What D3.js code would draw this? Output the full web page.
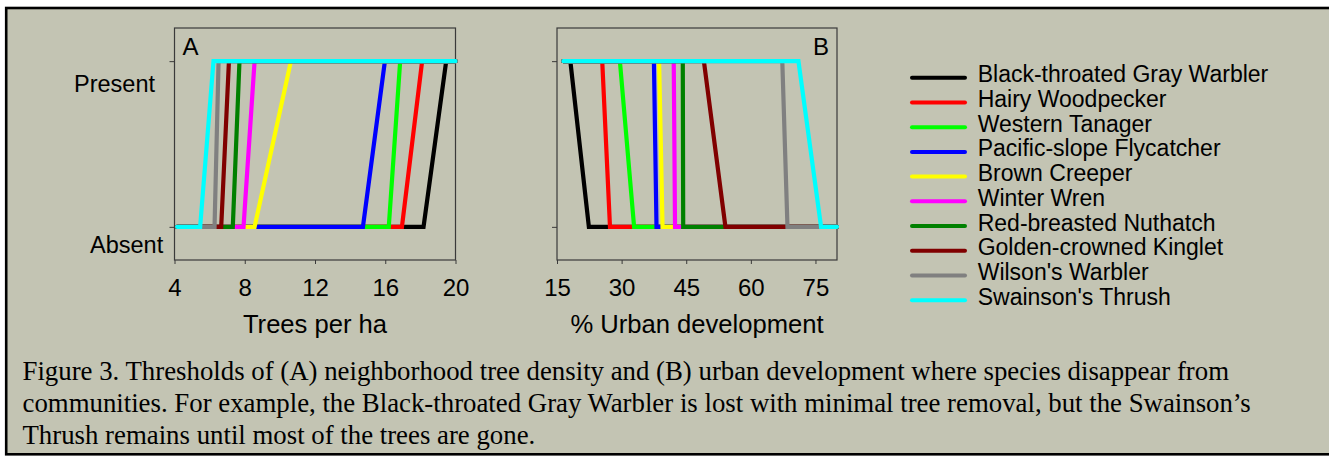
<!DOCTYPE html>
<html>
<head>
<meta charset="utf-8">
<script src="https://cdn.jsdelivr.net/npm/d3@7"></script>
<style>
  body { margin: 0; background: #fff; }
  svg { display: block; }
</style>
</head>
<body>
<svg id="chart" width="1329" height="456"></svg>
<script>
// species, in legend (and drawing) order
var species = ["Black-throated Gray Warbler", "Hairy Woodpecker", "Western Tanager",
  "Pacific-slope Flycatcher", "Brown Creeper", "Winter Wren", "Red-breasted Nuthatch",
  "Golden-crowned Kinglet", "Wilson's Warbler", "Swainson's Thrush"];
var palette = ["#000000", "#ff0000", "#00ff00", "#0000ff", "#ffff00", "#ff00ff",
  "#008000", "#800000", "#808080", "#00ffff"];

// panel A: trees per ha where each species is still absent / already present
var treesAbsentTo = [18.18, 16.95, 16.2, 14.73, 8.56, 7.93, 7.32, 6.66, 6.28, 5.46];
var treesPresentFrom = [19.47, 18.1, 16.85, 15.98, 10.63, 8.56, 7.7, 7.1, 6.51, 6.22];
var treesSpan = [4.15, 20];

// panel B: % urban development where each species is still present / already gone
var urbanPresentTo = [18.1, 25.5, 29.6, 37.5, 38.7, 42.1, 44.2, 49.1, 67.3, 71.05];
var urbanAbsentFrom = [22.4, 27.3, 32.9, 38.1, 39.5, 42.4, 44.3, 54.1, 68.5, 76.3];
var urbanSpan = [16.5, 80];

var treesTicks = [4, 8, 12, 16, 20];
var urbanTicks = [15, 30, 45, 60, 75];
var stateLabels = ["Absent", "Present"];

var captionLines = [
  "Figure 3. Thresholds of (A) neighborhood tree density and (B) urban development where species disappear from",
  "communities. For example, the Black-throated Gray Warbler is lost with minimal tree removal, but the Swainson\u2019s",
  "Thrush remains until most of the trees are gone."
];

var bg = "#c3c4b3";
var sans = "'Liberation Sans', Arial, sans-serif";

var svg = d3.select("#chart");

// outer frame
svg.append("rect")
    .attr("x", 6.2).attr("y", 8)
    .attr("width", 1330).attr("height", 446.3)
    .attr("fill", bg)
    .attr("stroke", "#000")
    .attr("stroke-width", 2.6);

var plotTop = 28, plotBottom = 260;

var y = d3.scaleLinear().domain([-0.2, 1.2]).range([plotBottom, plotTop]);

var line = d3.line()
    .x(function (d) { return d[0]; })
    .y(function (d) { return d[1]; });

function panel(left, right, domain, ticks, title, letter, letterAnchor) {
    var x = d3.scaleLinear().domain(domain).range([left, right]);
    var g = svg.append("g");

    g.append("rect")
        .attr("x", left).attr("y", plotTop)
        .attr("width", right - left).attr("height", plotBottom - plotTop)
        .attr("fill", "none")
        .attr("stroke", "#3a3a3a")
        .attr("stroke-width", 1.2);

    var xa = g.append("g")
        .attr("transform", "translate(0," + plotBottom + ")")
        .call(d3.axisBottom(x).tickValues(ticks).tickSize(4).tickSizeOuter(0).tickPadding(15));
    xa.select(".domain").remove();
    xa.selectAll("line").attr("stroke", "#3a3a3a");
    xa.selectAll("text")
        .style("font-family", sans)
        .style("font-size", "24px")
        .attr("fill", "#000");

    var ya = g.append("g")
        .attr("transform", "translate(" + left + ",0)")
        .call(d3.axisLeft(y).tickValues([0, 1]).tickSize(5).tickFormat(""));
    ya.select(".domain").remove();
    ya.selectAll("line").attr("stroke", "#3a3a3a");

    g.append("text")
        .attr("x", (left + right) / 2)
        .attr("y", 333)
        .attr("text-anchor", "middle")
        .style("font-family", sans)
        .style("font-size", "25.6px")
        .text(title);

    g.append("text")
        .attr("x", letterAnchor == "start" ? left + 8 : right - 8)
        .attr("y", 55)
        .attr("text-anchor", letterAnchor)
        .style("font-family", sans)
        .style("font-size", "24px")
        .text(letter);

    return { g: g, x: x };
}

var pa = panel(174.5, 455.5, [4, 20], treesTicks, "Trees per ha", "A", "start");
var pb = panel(557, 837, [15, 80], urbanTicks, "% Urban development", "B", "end");

// y labels sit a little below their ticks in the original
svg.selectAll(".statelabel")
    .data(stateLabels)
    .enter().append("text")
    .attr("class", "statelabel")
    .attr("x", function (d, i) { return i == 1 ? 74 : 90; })
    .attr("y", function (d, i) { return y(i) + (i == 1 ? 31 : 26); })
    .style("font-family", sans)
    .style("font-size", "23.5px")
    .text(function (d) { return d; });

function drawLines(p, pts) {
    p.g.selectAll(".sp")
        .data(species)
        .enter().append("path")
        .attr("class", "sp")
        .attr("d", function (d, i) {
            return line(pts(i).map(function (q) { return [p.x(q[0]), y(q[1])]; }));
        })
        .attr("fill", "none")
        .attr("stroke", function (d, i) { return palette[i]; })
        .attr("stroke-width", 4.2)
        .attr("stroke-linecap", "round")
        .attr("stroke-linejoin", "miter");
}

drawLines(pa, function (i) {
    return [[treesSpan[0], 0], [treesAbsentTo[i], 0], [treesPresentFrom[i], 1], [treesSpan[1], 1]];
});
drawLines(pb, function (i) {
    return [[urbanSpan[0], 1], [urbanPresentTo[i], 1], [urbanAbsentFrom[i], 0], [urbanSpan[1], 0]];
});

// legend
var leg = svg.append("g").attr("transform", "translate(912,77.7)");
var rows = leg.selectAll("g")
    .data(species)
    .enter().append("g")
    .attr("transform", function (d, i) { return "translate(0," + (i * 24.73) + ")"; });
rows.append("line")
    .attr("x1", 0).attr("x2", 53)
    .attr("stroke", function (d, i) { return palette[i]; })
    .attr("stroke-width", 4)
    .attr("stroke-linecap", "round");
rows.append("text")
    .attr("x", 65.7)
    .attr("y", 4.6)
    .style("font-family", sans)
    .style("font-size", "23px")
    .text(function (d) { return d; });

// caption
svg.selectAll(".cap")
    .data(captionLines)
    .enter().append("text")
    .attr("class", "cap")
    .attr("x", 22.5)
    .attr("y", function (d, i) { return 380 + i * 32; })
    .style("font-family", "'Liberation Serif', 'Times New Roman', serif")
    .style("font-size", "26.8px")
    .text(function (d) { return d; });
</script>
</body>
</html>
